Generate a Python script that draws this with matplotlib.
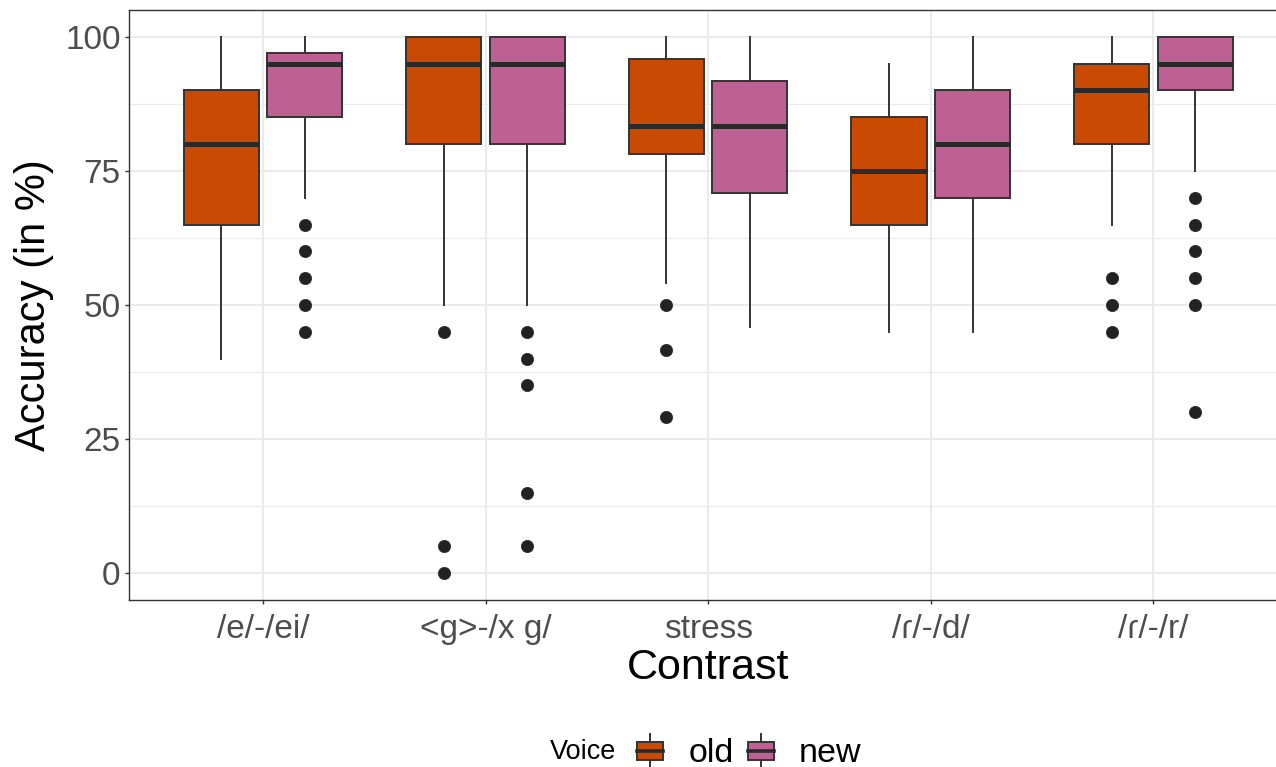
import matplotlib
matplotlib.use("Agg")
import matplotlib.pyplot as plt
from matplotlib.patches import Rectangle, Patch
from matplotlib.lines import Line2D
from matplotlib.legend_handler import HandlerBase
from matplotlib.ticker import FixedLocator

plt.rcParams['font.family'] = ['Liberation Sans', 'DejaVu Sans']

# ---- data ----
categories = ['/e/-/ei/', '<g>-/x g/', 'stress', '/ɾ/-/d/', '/ɾ/-/r/']
voices = ['old', 'new']

old_whislo = [40, 50, 54.17, 45, 65]
old_q1 = [65, 80, 78.13, 65, 80]
old_med = [80, 95, 83.33, 75, 90]
old_q3 = [90, 100, 95.83, 85, 95]
old_whishi = [100, 100, 100, 95, 100]
old_fliers = [[], [45, 5, 0], [50, 41.67, 29.17], [], [55, 50, 45]]

new_whislo = [70, 50, 45.83, 45, 75]
new_q1 = [85, 80, 70.83, 70, 90]
new_med = [95, 95, 83.33, 80, 95]
new_q3 = [97, 100, 91.67, 90, 100]
new_whishi = [100, 100, 100, 100, 100]
new_fliers = [[65, 60, 55, 50, 45], [45, 40, 35, 15, 5], [], [], [70, 65, 60, 55, 50, 30]]

colors = {'old': '#C94A02', 'new': '#BF6094'}
edge = '#333333'


def make_stats(lo, q1, med, q3, hi, fl):
    return [dict(whislo=a, q1=b, med=c, q3=d, whishi=e, fliers=f)
            for a, b, c, d, e, f in zip(lo, q1, med, q3, hi, fl)]


stats = {
    'old': make_stats(old_whislo, old_q1, old_med, old_q3, old_whishi, old_fliers),
    'new': make_stats(new_whislo, new_q1, new_med, new_q3, new_whishi, new_fliers),
}

W, H = 1276, 767
fig = plt.figure(figsize=(W / 100, H / 100), dpi=100)
ax = fig.add_axes([129.3 / W, 1 - 600 / H, (1287 - 129.3) / W, 590 / H])

base = list(range(1, len(categories) + 1))
offsets = {'old': -0.1875, 'new': 0.1875}
for v in voices:
    pos = [b + offsets[v] for b in base]
    ax.bxp(stats[v], positions=pos, widths=0.3375, patch_artist=True,
           showcaps=False, manage_ticks=False,
           boxprops=dict(facecolor=colors[v], edgecolor=edge, linewidth=1.4),
           medianprops=dict(color='#2a2a2a', linewidth=3.6, solid_capstyle='butt'),
           whiskerprops=dict(color=edge, linewidth=1.4),
           flierprops=dict(marker='o', markerfacecolor='#222222',
                           markeredgecolor='#222222', markersize=8.8, markeredgewidth=0.5),
           zorder=3)

ax.set_xlim(0.4, len(categories) + 0.6)
ax.set_ylim(-5, 105)
ax.set_xticks(base)
ax.set_xticklabels(categories)
ax.set_yticks([0, 25, 50, 75, 100])
ax.yaxis.set_minor_locator(FixedLocator([12.5, 37.5, 62.5, 87.5]))

ax.grid(True, which='major', color='#EBEBEB', linewidth=1.4, zorder=0)
ax.grid(True, which='minor', axis='y', color='#EBEBEB', linewidth=0.8, zorder=0)
ax.set_axisbelow(True)
for s in ax.spines.values():
    s.set_color(edge)
    s.set_linewidth(1.0)

ax.tick_params(axis='both', which='major', length=3.2, width=1.0, color=edge,
               labelcolor='#4D4D4D', labelsize=24, pad=3)
ax.tick_params(axis='y', which='minor', length=0)
ax.tick_params(axis='x', pad=7)

ax.set_xlabel('Contrast', fontsize=31, color='black', labelpad=2)
ax.set_ylabel('Accuracy (in %)', fontsize=30, color='black', labelpad=8)


class BoxHandler(HandlerBase):
    def create_artists(self, legend, orig_handle, xdescent, ydescent,
                       width, height, fontsize, trans):
        fc = orig_handle.get_facecolor()
        x0, y0 = -xdescent, -ydescent
        b0 = y0 + 0.19 * height
        b1 = y0 + 0.757 * height
        cx = x0 + width / 2
        rect = Rectangle((x0, b0), width, b1 - b0, facecolor=fc,
                         edgecolor=edge, linewidth=1.4, transform=trans)
        med = Line2D([x0, x0 + width], [(b0 + b1) / 2] * 2, color='#2a2a2a',
                     linewidth=2.6, transform=trans)
        w1 = Line2D([cx, cx], [b1, y0 + height], color=edge, linewidth=1.4, transform=trans)
        w2 = Line2D([cx, cx], [y0, b0], color=edge, linewidth=1.4, transform=trans)
        return [w1, w2, rect, med]


handles = [Patch(facecolor=colors[v]) for v in voices]
fs = 24.5
px_per_em = fs * 100 / 72
leg = fig.legend(handles, voices, handler_map={Patch: BoxHandler()},
                 loc='center', bbox_to_anchor=(749.5 / W, 1 - 751.5 / H),
                 ncol=2, frameon=False, fontsize=fs,
                 handlelength=26 / px_per_em, handleheight=37 / px_per_em,
                 handletextpad=0.75, columnspacing=0.4, borderpad=0, borderaxespad=0)
fig.text(616 / W, 1 - 752 / H, 'Voice', ha='right', va='center', fontsize=19.5, color='black')

fig.savefig('out.png', dpi=100)
